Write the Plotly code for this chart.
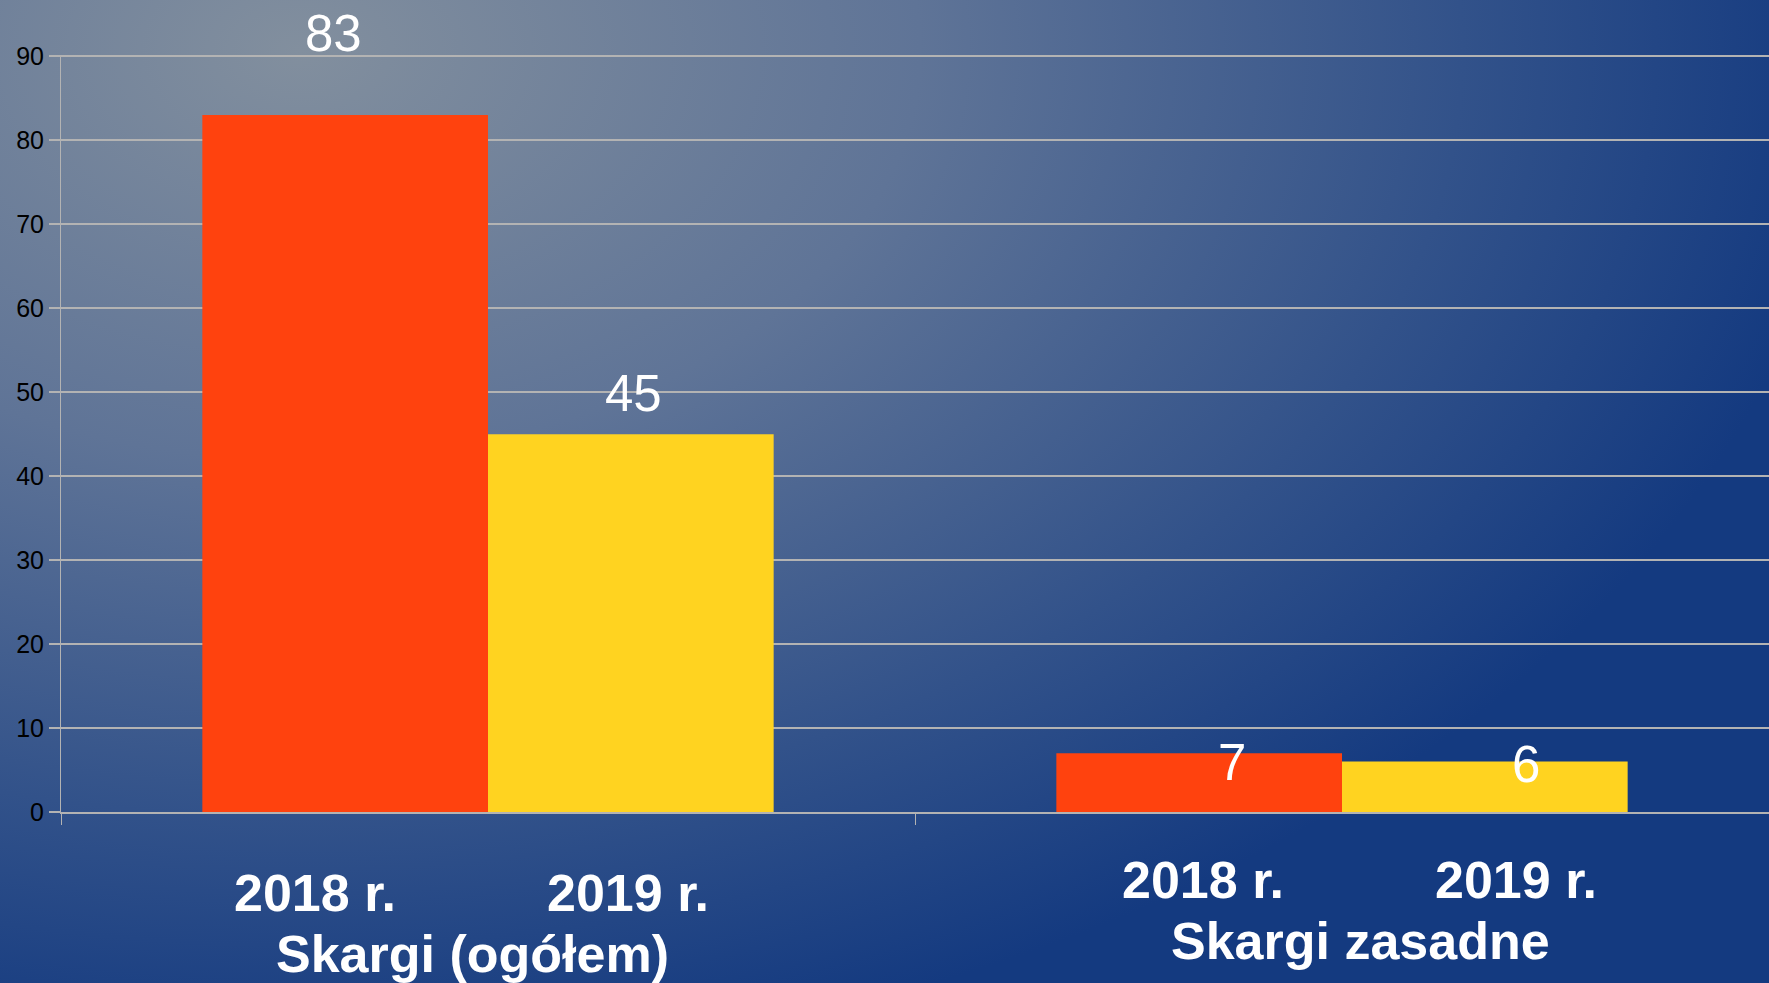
import base64
import plotly.graph_objects as go

# ---- data ----
categories = ["Skargi (ogółem)", "Skargi zasadne"]
series_names = ["2018 r.", "2019 r."]
values_2018 = [83, 7]
values_2019 = [45, 6]
y_ticks = [0, 10, 20, 30, 40, 50, 60, 70, 80, 90]

# ---- style ----
W, H = 1769, 983
M_L, M_R, M_T, M_B = 61, 0, 55, 171
colors = ["#ff420e", "#ffd320"]
font_family = "Liberation Sans, Arial, sans-serif"
grid_color = "#b3b3b3"

# label placement offsets (pixels) per series, per category
value_dx = [[-155, -110], [145, 184]]
value_dy = [[82, -9], [41, -3]]
year_dx = [[-173, -139], [140, 174]]
year_dy = [-81, -68]
title_dx = [-16, 18]
title_dy = [-142, -129]

series_values = [values_2018, values_2019]

fig = go.Figure()
for name, vals, col in zip(series_names, series_values, colors):
    fig.add_trace(go.Bar(x=categories, y=vals, name=name, marker=dict(color=col, line=dict(width=0)),
                         hoverinfo="x+y+name"))

annotations = []
for s, vals in enumerate(series_values):
    for i, v in enumerate(vals):
        annotations.append(dict(
            x=categories[i], y=v, xref="x", yref="y", text=str(v), showarrow=False,
            xanchor="center", yanchor="middle", xshift=value_dx[s][i], yshift=value_dy[s][i],
            font=dict(family=font_family, size=51, color="white")))
        annotations.append(dict(
            x=categories[i], y=0, xref="x", yref="paper", text=series_names[s], showarrow=False,
            xanchor="center", yanchor="middle", xshift=year_dx[s][i], yshift=year_dy[i],
            font=dict(family=font_family, size=52, color="white", weight="bold")))
for i, c in enumerate(categories):
    annotations.append(dict(
        x=c, y=0, xref="x", yref="paper", text=c, showarrow=False,
        xanchor="center", yanchor="middle", xshift=title_dx[i], yshift=title_dy[i],
        font=dict(family=font_family, size=52, color="white", weight="bold")))

# background gradient as an inline SVG image
svg = f'''<svg xmlns="http://www.w3.org/2000/svg" width="{W}" height="{H}" viewBox="0 0 {W} {H}" preserveAspectRatio="none">
<defs><radialGradient id="g" gradientUnits="userSpaceOnUse" cx="300" cy="50" r="1550"
 gradientTransform="translate(300 50) scale(1 0.66) translate(-300 -50)">
<stop offset="0" stop-color="#828f9e"/><stop offset="0.4" stop-color="#5f7497"/>
<stop offset="0.75" stop-color="#32528a"/><stop offset="1" stop-color="#143a80"/></radialGradient></defs>
<rect width="{W}" height="{H}" fill="url(#g)"/></svg>'''
src = "data:image/svg+xml;base64," + base64.b64encode(svg.encode("utf-8")).decode("ascii")

pw = W - M_L - M_R
ph = H - M_T - M_B
fig.update_layout(
    width=W, height=H,
    margin=dict(l=M_L, r=M_R, t=M_T, b=M_B, pad=0),
    barmode="group", bargap=0.331, bargroupgap=0,
    showlegend=False,
    paper_bgcolor="#2a4c89", plot_bgcolor="rgba(0,0,0,0)",
    font=dict(family=font_family, color="black"),
    annotations=annotations,
    images=[dict(source=src, xref="paper", yref="paper",
                 x=-M_L / pw, y=1 + M_T / ph, sizex=W / pw, sizey=H / ph,
                 xanchor="left", yanchor="top", sizing="stretch", layer="below")],
    xaxis=dict(showticklabels=False, ticks="outside", tickson="boundaries", ticklen=11,
               tickcolor=grid_color, tickwidth=1, showline=True, linecolor=grid_color,
               linewidth=1.5, showgrid=False, zeroline=False),
    yaxis=dict(range=[0, 90.15], tickvals=y_ticks, ticks="outside", ticklen=11,
               tickcolor=grid_color, tickwidth=1.5, showline=True, linecolor=grid_color,
               linewidth=1, showgrid=True, gridcolor=grid_color, gridwidth=1.5,
               zeroline=False, tickfont=dict(size=25, color="black", family=font_family)),
)

fig.write_html("out.html", config={"displayModeBar": False},
               post_script="document.body.style.margin='0';document.body.style.overflow='hidden';")
